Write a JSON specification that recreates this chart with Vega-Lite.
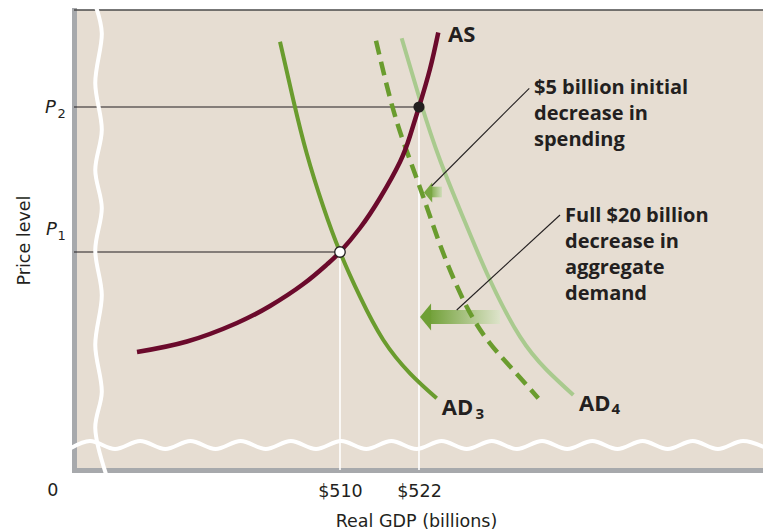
{
  "$schema": "https://vega.github.io/schema/vega-lite/v6.json",
  "width": 689,
  "height": 460,
  "autosize": {"type": "none"},
  "padding": {"left": 74, "top": 10, "right": 0, "bottom": 62},
  "background": "white",
  "config": {"view": {"fill": "#e6ddd2", "stroke": null}},
  "datasets": {
    "as": [
      {"gdp": 479.17, "price": 25.65}, {"gdp": 486.76, "price": 27.93}, {"gdp": 494.35, "price": 31.96},
      {"gdp": 499.37, "price": 35.65}, {"gdp": 504.38, "price": 40.37}, {"gdp": 508.03, "price": 44.70},
      {"gdp": 510.0, "price": 47.39}, {"gdp": 513.04, "price": 52.61}, {"gdp": 516.08, "price": 59.13},
      {"gdp": 519.11, "price": 66.96}, {"gdp": 520.63, "price": 72.61}, {"gdp": 522.0, "price": 78.91},
      {"gdp": 523.67, "price": 87.17}, {"gdp": 524.93, "price": 95.11}
    ],
    "ad3": [
      {"gdp": 500.89, "price": 93.11}, {"gdp": 502.91, "price": 80.43}, {"gdp": 504.94, "price": 68.85},
      {"gdp": 507.46, "price": 57.24}, {"gdp": 510.0, "price": 47.39}, {"gdp": 513.04, "price": 37.67},
      {"gdp": 516.58, "price": 28.26}, {"gdp": 520.63, "price": 21.02}, {"gdp": 524.69, "price": 15.59}
    ],
    "adm": [
      {"gdp": 515.47, "price": 93.33}, {"gdp": 518.10, "price": 78.26}, {"gdp": 520.63, "price": 67.39},
      {"gdp": 523.17, "price": 57.24}, {"gdp": 525.69, "price": 47.11}, {"gdp": 529.25, "price": 35.50},
      {"gdp": 532.78, "price": 27.54}, {"gdp": 536.32, "price": 21.74}, {"gdp": 540.12, "price": 15.59}
    ],
    "ad4": [
      {"gdp": 519.37, "price": 93.85}, {"gdp": 522.15, "price": 80.43}, {"gdp": 525.19, "price": 67.39},
      {"gdp": 528.99, "price": 53.91}, {"gdp": 532.78, "price": 41.30}, {"gdp": 537.34, "price": 28.98},
      {"gdp": 541.40, "price": 21.74}, {"gdp": 545.44, "price": 16.30}
    ],
    "pts": [
      {"gdp": 510, "price": 47.39, "gdpL": 469.6, "price0": 0, "kind": "P1"},
      {"gdp": 522, "price": 78.91, "gdpL": 469.6, "price0": 0, "kind": "P2"}
    ],
    "top": [{"gdp": 469.6, "gdp2": 575, "price": 100}],
    "vwave": [
      {"i": 0, "gdp": 473.01, "price": 100.43}, {"i": 1, "gdp": 473.82, "price": 95.00},
      {"i": 2, "gdp": 472.83, "price": 84.13}, {"i": 3, "gdp": 473.82, "price": 73.91},
      {"i": 4, "gdp": 472.83, "price": 65.22}, {"i": 5, "gdp": 473.82, "price": 56.96},
      {"i": 6, "gdp": 472.83, "price": 47.83}, {"i": 7, "gdp": 473.82, "price": 38.04},
      {"i": 8, "gdp": 472.83, "price": 27.17}, {"i": 9, "gdp": 473.82, "price": 16.96},
      {"i": 10, "gdp": 472.83, "price": 9.13}, {"i": 11, "gdp": 474.46, "price": -0.87}
    ],
    "hwave": [
      {"gdp": 469.14, "price": 4.78}, {"gdp": 472.025, "price": 6.30}, {"gdp": 475.840, "price": 4.57},
      {"gdp": 479.655, "price": 6.30}, {"gdp": 483.470, "price": 4.57}, {"gdp": 487.285, "price": 6.30},
      {"gdp": 491.100, "price": 4.57}, {"gdp": 494.914, "price": 6.30}, {"gdp": 498.729, "price": 4.57},
      {"gdp": 502.544, "price": 6.30}, {"gdp": 506.359, "price": 4.57}, {"gdp": 510.174, "price": 6.30},
      {"gdp": 513.989, "price": 4.57}, {"gdp": 517.804, "price": 6.30}, {"gdp": 521.619, "price": 4.57},
      {"gdp": 525.434, "price": 6.30}, {"gdp": 529.249, "price": 4.57}, {"gdp": 533.063, "price": 6.30},
      {"gdp": 536.878, "price": 4.57}, {"gdp": 540.693, "price": 6.30}, {"gdp": 544.508, "price": 4.57},
      {"gdp": 548.323, "price": 6.30}, {"gdp": 552.138, "price": 4.57}, {"gdp": 555.953, "price": 6.30},
      {"gdp": 559.768, "price": 4.57}, {"gdp": 563.583, "price": 6.30}, {"gdp": 567.397, "price": 4.57},
      {"gdp": 571.212, "price": 6.30}, {"gdp": 575.027, "price": 4.57}
    ],
    "bigShaft": [{"gdp": 523.37, "gdp2": 534.30, "price": 34.78, "price2": 31.74}],
    "smallShaft": [{"gdp": 523.67, "gdp2": 525.49, "price": 61.59, "price2": 59.28}],
    "bigHead": [{"gdp": 522.99, "price": 33.26}],
    "smallHead": [{"gdp": 523.38, "price": 60.33}],
    "leaders": [
      {"gdp": 538.75, "price": 82.98, "gdp2": 523.93, "price2": 61.74},
      {"gdp": 543.42, "price": 55.43, "gdp2": 527.73, "price2": 34.78}
    ],
    "notes": [
      {"gdp": 539.47, "price": 81.74, "t": "$5 billion initial\ndecrease in\nspending"},
      {"gdp": 544.18, "price": 53.98, "t": "Full $20 billion\ndecrease in\naggregate\ndemand"}
    ],
    "curveLabels": [
      {"gdp": 526.41, "price": 93.15, "t": "AS"},
      {"gdp": 525.45, "price": 11.96, "t": "AD"},
      {"gdp": 546.30, "price": 12.93, "t": "AD"}
    ],
    "curveSubs": [
      {"gdp": 530.58, "price": 11.09, "t": "3"},
      {"gdp": 551.24, "price": 12.17, "t": "4"}
    ],
    "pLabels": [
      {"gdp": 465.19, "price": 77.61, "t": "P"},
      {"gdp": 465.34, "price": 51.09, "t": "P"}
    ],
    "pSubs": [
      {"gdp": 467.09, "price": 76.52, "t": "2"},
      {"gdp": 467.09, "price": 50.0, "t": "1"}
    ],
    "origin": [{"gdp": 466.40, "price": -5.65, "t": "0"}]
  },
  "encoding": {
    "x": {
      "field": "gdp", "type": "quantitative",
      "scale": {"domain": [469.6, 574.25], "nice": false, "zero": false},
      "axis": {
        "values": [510, 522], "labelExpr": "'$' + datum.value",
        "title": "Real GDP (billions)", "grid": false, "ticks": false, "tickSize": 0,
        "domainColor": "#a7a9ac", "domainWidth": 5, "domainCap": "square",
        "labelFont": "DejaVu Sans", "labelFontSize": 17.5, "labelColor": "#231f20",
        "labelBaseline": "alphabetic", "labelPadding": 26, "labelFlush": false, "labelOverlap": false,
        "titleFont": "DejaVu Sans", "titleFontSize": 17.5, "titleFontWeight": "normal", "titleColor": "#231f20",
        "titleBaseline": "alphabetic", "titleAlign": "center", "titleX": 342, "titleY": 56.7
      }
    },
    "y": {
      "field": "price", "type": "quantitative",
      "scale": {"domain": [0, 100], "nice": false, "zero": false},
      "axis": {
        "title": "Price level", "labels": false, "ticks": false, "tickSize": 0, "grid": false,
        "domainColor": "#a7a9ac", "domainWidth": 5, "domainCap": "square",
        "titleFont": "DejaVu Sans", "titleFontSize": 17.5, "titleFontWeight": "normal", "titleColor": "#231f20",
        "titleAngle": -90, "titleBaseline": "alphabetic", "titleAlign": "center", "titleX": -45, "titleY": 230
      }
    }
  },
  "layer": [
    {"data": {"name": "top"}, "mark": {"type": "rule", "color": "#4a4a4a", "strokeWidth": 1.5},
     "encoding": {"x2": {"field": "gdp2"}}},
    {"data": {"name": "pts"}, "mark": {"type": "rule", "color": "#231f20", "strokeWidth": 1.2},
     "encoding": {"x2": {"field": "gdpL"}}},
    {"data": {"name": "pts"}, "mark": {"type": "rule", "color": "#ffffff", "strokeWidth": 1.6},
     "encoding": {"y2": {"field": "price0"}}},
    {"data": {"name": "hwave"}, "mark": {"type": "line", "color": "#ffffff", "strokeWidth": 4, "interpolate": "monotone"},
     "encoding": {}},
    {"data": {"name": "vwave"}, "mark": {"type": "line", "color": "#ffffff", "strokeWidth": 4, "interpolate": "catmull-rom"},
     "encoding": {"order": {"field": "i", "type": "quantitative"}}},
    {"data": {"name": "bigShaft"},
     "mark": {"type": "rect", "fill": {"gradient": "linear", "x1": 0, "y1": 0, "x2": 1, "y2": 0,
       "stops": [{"offset": 0, "color": "#6f9f35"}, {"offset": 1, "color": "#dde3ca"}]}},
     "encoding": {"x2": {"field": "gdp2"}, "y2": {"field": "price2"}}},
    {"data": {"name": "smallShaft"},
     "mark": {"type": "rect", "fill": {"gradient": "linear", "x1": 0, "y1": 0, "x2": 1, "y2": 0,
       "stops": [{"offset": 0, "color": "#7aa843"}, {"offset": 1, "color": "#cfdcb8"}]}},
     "encoding": {"x2": {"field": "gdp2"}, "y2": {"field": "price2"}}},
    {"data": {"name": "bigHead"},
     "mark": {"type": "point", "shape": "M -0.41 0 L 0.41 -1 L 0.41 1 Z", "filled": true, "fill": "#6f9f35", "opacity": 1, "strokeWidth": 0, "size": 729},
     "encoding": {}},
    {"data": {"name": "smallHead"},
     "mark": {"type": "point", "shape": "M -0.41 0 L 0.41 -1 L 0.41 1 Z", "filled": true, "fill": "#78a641", "opacity": 1, "strokeWidth": 0, "size": 400},
     "encoding": {}},
    {"data": {"name": "ad4"}, "mark": {"type": "line", "color": "#a9ca8e", "strokeWidth": 4, "interpolate": "natural"},
     "encoding": {}},
    {"data": {"name": "adm"}, "mark": {"type": "line", "color": "#6a9c2e", "strokeWidth": 4.5, "strokeDash": [14, 7.5], "interpolate": "natural"},
     "encoding": {}},
    {"data": {"name": "ad3"}, "mark": {"type": "line", "color": "#6a9c2e", "strokeWidth": 4, "interpolate": "natural"},
     "encoding": {}},
    {"data": {"name": "as"}, "mark": {"type": "line", "color": "#6b0a2c", "strokeWidth": 4.5, "interpolate": "natural"},
     "encoding": {}},
    {"data": {"name": "leaders"}, "mark": {"type": "rule", "color": "#231f20", "strokeWidth": 1.1},
     "encoding": {"x2": {"field": "gdp2"}, "y2": {"field": "price2"}}},
    {"data": {"name": "pts"}, "transform": [{"filter": "datum.kind === 'P1'"}],
     "mark": {"type": "point", "shape": "circle", "filled": true, "fill": "#ffffff", "stroke": "#231f20", "strokeWidth": 1.3, "opacity": 1, "size": 110},
     "encoding": {}},
    {"data": {"name": "pts"}, "transform": [{"filter": "datum.kind === 'P2'"}],
     "mark": {"type": "point", "shape": "circle", "filled": true, "fill": "#231f20", "opacity": 1, "strokeWidth": 0, "size": 125},
     "encoding": {}},
    {"data": {"name": "notes"},
     "mark": {"type": "text", "font": "Open Sans", "fontWeight": "bold", "fontSize": 20, "align": "left", "baseline": "alphabetic", "lineBreak": "\n", "lineHeight": 26.2, "color": "#231f20"},
     "encoding": {"text": {"field": "t"}}},
    {"data": {"name": "curveLabels"},
     "mark": {"type": "text", "font": "Open Sans", "fontWeight": "bold", "fontSize": 22, "align": "left", "baseline": "alphabetic", "color": "#231f20"},
     "encoding": {"text": {"field": "t"}}},
    {"data": {"name": "curveSubs"},
     "mark": {"type": "text", "font": "Open Sans", "fontWeight": "bold", "fontSize": 15, "align": "left", "baseline": "alphabetic", "color": "#231f20"},
     "encoding": {"text": {"field": "t"}}},
    {"data": {"name": "pLabels"},
     "mark": {"type": "text", "font": "DejaVu Sans", "fontStyle": "italic", "fontSize": 18, "align": "left", "baseline": "alphabetic", "color": "#231f20"},
     "encoding": {"text": {"field": "t"}}},
    {"data": {"name": "pSubs"},
     "mark": {"type": "text", "font": "DejaVu Sans", "fontSize": 13, "align": "left", "baseline": "alphabetic", "color": "#231f20"},
     "encoding": {"text": {"field": "t"}}},
    {"data": {"name": "origin"},
     "mark": {"type": "text", "font": "DejaVu Sans", "fontSize": 17.5, "align": "center", "baseline": "alphabetic", "color": "#231f20"},
     "encoding": {"text": {"field": "t"}}}
  ]
}
